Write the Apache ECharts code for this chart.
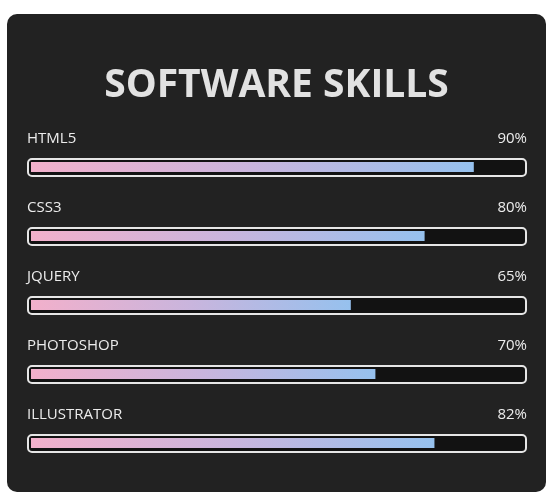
<!DOCTYPE html>
<html>
<head>
<meta charset="utf-8">
<script src="https://cdn.jsdelivr.net/npm/echarts@6/dist/echarts.min.js"></script>
<style>
html,body{margin:0;padding:0;background:#fff;}
#c{width:553px;height:501px;}
</style>
</head>
<body>
<div id="c"></div>
<script>
const titleText = 'SOFTWARE SKILLS';
const skills = ['HTML5', 'CSS3', 'JQUERY', 'PHOTOSHOP', 'ILLUSTRATOR'];
const levels = [90, 80, 65, 70, 82];
const maxLevel = 100;

const chart = echarts.init(document.getElementById('c'), null, {renderer: 'canvas'});
const FONT = '"Open Sans", "Noto Sans", sans-serif';

chart.setOption({
  backgroundColor: '#ffffff',
  animation: false,
  graphic: [{
    type: 'rect', z: -10, silent: true,
    shape: {x: 7, y: 14, width: 539, height: 478, r: 10},
    style: {fill: '#222222'}
  }],
  title: {
    text: titleText,
    left: 'center',
    top: 61,
    textStyle: {color: '#e2e2e2', fontSize: 39, fontWeight: 'bold', fontFamily: FONT}
  },
  grid: {left: 31, right: 30, top: 132.5, height: 345, containLabel: false},
  xAxis: {type: 'value', min: 0, max: maxLevel, show: false},
  yAxis: {type: 'category', data: skills, inverse: true, show: false},
  series: [
    {
      type: 'custom',
      z: 1,
      data: skills.map((s, i) => [maxLevel, i, levels[i]]),
      renderItem: function (params, api) {
        const p0 = api.coord([0, api.value(1)]);
        const p1 = api.coord([api.value(0), api.value(1)]);
        const cy = p0[1];
        const x0 = p0[0] - 3, x1 = p1[0] + 3;
        return {
          type: 'group',
          children: [
            {
              type: 'rect',
              shape: {x: x0, y: cy - 8, width: x1 - x0, height: 17, r: 4},
              style: {fill: '#121212', stroke: '#e6e6e6', lineWidth: 2}
            },
            {
              type: 'text',
              style: {
                text: skills[params.dataIndex], x: x0 - 1, y: cy - 28,
                fill: '#ececec', font: '15px ' + FONT,
                align: 'left', verticalAlign: 'middle'
              }
            },
            {
              type: 'text',
              style: {
                text: api.value(2) + '%', x: x1 + 1, y: cy - 28,
                fill: '#ececec', font: '15px ' + FONT,
                align: 'right', verticalAlign: 'middle'
              }
            }
          ]
        };
      }
    },
    {
      type: 'bar',
      z: 5,
      data: levels,
      barWidth: 10,
      itemStyle: {
        color: new echarts.graphic.LinearGradient(0, 0, 1, 0, [
          {offset: 0, color: '#f2b0cb'},
          {offset: 0.5, color: '#c9b5dd'},
          {offset: 1, color: '#96c1ee'}
        ])
      }
    }
  ]
});
</script>
</body>
</html>
